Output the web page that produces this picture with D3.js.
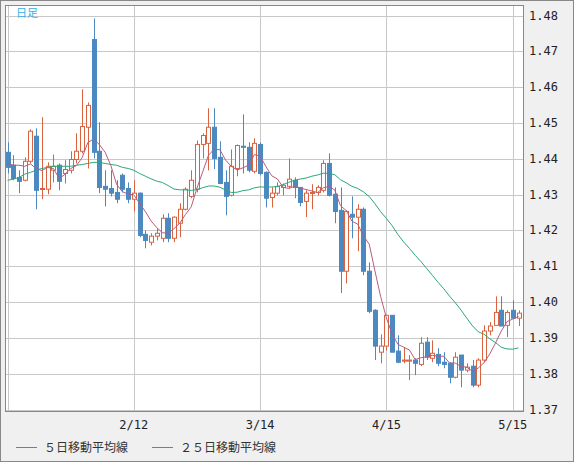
<!DOCTYPE html>
<html>
<head>
<meta charset="utf-8">
<script src="https://cdn.jsdelivr.net/npm/d3@7"></script>
<style>
body { margin:0; background:#f0f0f0; font-family:"DejaVu Sans Mono", monospace; }
</style>
</head>
<body>
<svg id="chart" width="574" height="462"></svg>
<script>
// daily candles, 90 sessions
var opens  = [1.4418,1.4382,1.4348,1.4340,1.4393,1.4463,1.4315,1.4315,1.4368,1.4382,1.4359,1.4368,1.4398,1.4421,1.4488,1.4733,1.4421,1.4323,1.4317,1.4306,
              1.4354,1.4317,1.4287,1.4304,1.4189,1.4167,1.4184,1.4178,1.4234,1.4178,1.4220,1.4259,1.4295,1.4315,1.4440,1.4443,1.4488,1.4404,1.4334,1.4298,
              1.4373,1.4435,1.4432,1.4365,1.4440,1.4362,1.4292,1.4304,1.4320,1.4323,1.4340,1.4320,1.4281,1.4304,1.4306,1.4312,1.4387,1.4301,1.4256,1.4086,
              1.4245,1.4237,1.4259,1.4086,1.3977,1.3860,1.3877,1.3963,1.3863,1.3835,1.3835,1.3838,1.3826,1.3888,1.3843,1.3854,1.3832,1.3829,1.3790,1.3852,
              1.3810,1.3821,1.3768,1.3838,1.3919,1.3935,1.3977,1.3935,1.3977,1.3955]
var closes = [1.4376,1.4345,1.4337,1.4393,1.4477,1.4312,1.4317,1.4379,1.4379,1.4337,1.4370,1.4398,1.4421,1.4490,1.4549,1.4418,1.4320,1.4315,1.4304,1.4287,
              1.4315,1.4287,1.4304,1.4186,1.4172,1.4184,1.4192,1.4234,1.4178,1.4237,1.4259,1.4315,1.4340,1.4440,1.4465,1.4488,1.4401,1.4331,1.4295,1.4379,
              1.4437,1.4432,1.4368,1.4443,1.4359,1.4290,1.4304,1.4323,1.4326,1.4343,1.4320,1.4278,1.4304,1.4306,1.4320,1.4387,1.4298,1.4253,1.4086,1.4253,
              1.4237,1.4259,1.4086,1.3974,1.3877,1.3877,1.3963,1.3860,1.3832,1.3838,1.3838,1.3829,1.3885,1.3846,1.3857,1.3829,1.3826,1.3790,1.3846,1.3810,
              1.3818,1.3768,1.3838,1.3919,1.3933,1.3971,1.3933,1.3971,1.3955,1.3969]
var highs  = [1.4446,1.4410,1.4368,1.4404,1.4482,1.4485,1.4516,1.4390,1.4412,1.4387,1.4396,1.4421,1.4471,1.4594,1.4557,1.4792,1.4502,1.4368,1.4368,1.4340,
              1.4359,1.4334,1.4340,1.4306,1.4200,1.4192,1.4206,1.4245,1.4248,1.4239,1.4276,1.4320,1.4368,1.4451,1.4471,1.4541,1.4541,1.4449,1.4368,1.4426,
              1.4440,1.4524,1.4446,1.4457,1.4446,1.4365,1.4320,1.4334,1.4331,1.4401,1.4348,1.4320,1.4312,1.4329,1.4326,1.4396,1.4415,1.4320,1.4320,1.4256,
              1.4295,1.4273,1.4264,1.4111,1.3980,1.3910,1.3963,1.3963,1.3907,1.3874,1.3852,1.3843,1.3902,1.3902,1.3893,1.3871,1.3860,1.3832,1.3860,1.3852,
              1.3829,1.3838,1.3843,1.3935,1.3944,1.4016,1.4016,1.3977,1.4005,1.3977]
var lows   = [1.4359,1.4340,1.4304,1.4337,1.4387,1.4259,1.4287,1.4301,1.4334,1.4312,1.4331,1.4359,1.4387,1.4415,1.4373,1.4401,1.4304,1.4267,1.4295,1.4276,
              1.4306,1.4276,1.4253,1.4181,1.4150,1.4158,1.4172,1.4167,1.4167,1.4167,1.4181,1.4256,1.4290,1.4306,1.4401,1.4368,1.4371,1.4329,1.4242,1.4295,
              1.4351,1.4359,1.4362,1.4359,1.4354,1.4264,1.4264,1.4298,1.4298,1.4317,1.4290,1.4267,1.4237,1.4259,1.4298,1.4306,1.4295,1.4220,1.4025,1.4052,
              1.4178,1.4142,1.4075,1.3969,1.3838,1.3829,1.3865,1.3860,1.3829,1.3829,1.3782,1.3796,1.3821,1.3838,1.3832,1.3821,1.3815,1.3773,1.3787,1.3762,
              1.3804,1.3762,1.3762,1.3832,1.3907,1.3935,1.3933,1.3902,1.3952,1.3933]
// averages for the first sessions (prior data not shown)
var ma5Start  = [1.4387,1.4382,1.4382,1.4379]
var ma25Start = [1.4340,1.4343,1.4348,1.4357,1.4362,1.4368,1.4373,1.4376,1.4379,1.4379,1.4379,1.4379,1.4382,1.4384,1.4387,1.4390,1.4390,1.4387,1.4384,1.4382,
                 1.4376,1.4373,1.4368,1.4359]
var yTicks = [1.37,1.38,1.39,1.40,1.41,1.42,1.43,1.44,1.45,1.46,1.47,1.48]
var dateTicks = [[22,"2/12"],[44,"3/14"],[66,"4/15"],[88,"5/15"]]

function movingAvg(n, start){
	var out = []
	for(var i=0;i<closes.length;i++){
		if(i<n-1){ out.push(start[i]); continue }
		out.push(d3.mean(closes.slice(i-n+1,i+1)))
	}
	return out
}
var ma5 = movingAvg(5, ma5Start)
var ma25 = movingAvg(25, ma25Start)

var svg = d3.select("#chart")
var L=5, R=524, T=5, B=412
svg.append("rect").attr("x",0.5).attr("y",0.5).attr("width",573).attr("height",461).attr("fill","#f0f0f0").attr("stroke","#888")
svg.append("rect").attr("x",L).attr("y",T).attr("width",R-L).attr("height",B-T).attr("fill","#fff")

var x = d3.scaleLinear().domain([0,89]).range([7.5,518.5])
var y = d3.scaleLinear().domain([1.37,1.48]).range([409.5,15.5])

// grid
svg.append("g").selectAll("line").data(yTicks).join("line")
	.attr("x1",L).attr("x2",R).attr("y1",d=>Math.round(y(d))+0.5).attr("y2",d=>Math.round(y(d))+0.5)
	.attr("stroke","#c8c8c8")
svg.append("g").selectAll("line").data([[0]].concat(dateTicks)).join("line")
	.attr("x1",d=>Math.round(x(d[0]))+0.5).attr("x2",d=>Math.round(x(d[0]))+0.5).attr("y1",T).attr("y2",B)
	.attr("stroke","#c8c8c8")

// candles
var idx = d3.range(closes.length)
var g = svg.append("g")
idx.forEach(function(i){
	var up = closes[i]>=opens[i]
	var col = up ? "#d9623f" : "#4b89c0"
	var cx = Math.round(x(i))+0.5
	g.append("line").attr("x1",cx).attr("x2",cx).attr("y1",y(highs[i])).attr("y2",y(lows[i])).attr("stroke",col)
	var top = y(Math.max(opens[i],closes[i])), bot = y(Math.min(opens[i],closes[i]))
	g.append("rect").attr("x",cx-2).attr("y",top).attr("width",4).attr("height",Math.max(1,bot-top))
		.attr("fill",up?"#fff":col).attr("stroke",col)
})

var line = d3.line().x((d,i)=>x(i)).y(d=>y(d))
svg.append("path").datum(ma25).attr("d",line).attr("fill","none").attr("stroke","#2aa876").attr("stroke-width",1)
svg.append("path").datum(ma5).attr("d",line).attr("fill","none").attr("stroke","#b85c80").attr("stroke-width",1)

// frame
svg.append("rect").attr("x",L+0.5).attr("y",T+0.5).attr("width",R-L-1).attr("height",B-T-1).attr("fill","none").attr("stroke","#888")

// axis labels
svg.append("g").selectAll("text").data(yTicks).join("text")
	.attr("x",529).attr("y",d=>y(d)+4).attr("font-size",12).attr("fill","#222").text(d=>d.toFixed(2))
svg.append("g").selectAll("text").data(dateTicks).join("text")
	.attr("x",d=>x(d[0])).attr("y",429).attr("text-anchor","middle").attr("font-size",12).attr("fill","#222").text(d=>d[1])

svg.append("text").attr("x",16).attr("y",17).attr("font-size",11).attr("fill","#35b0e6").attr("font-family","Noto Sans CJK JP").text("日足")

// legend
var leg = [["５日移動平均線","#b85c80",16],["２５日移動平均線","#2aa876",152]]
leg.forEach(function(l){
	svg.append("line").attr("x1",l[2]).attr("x2",l[2]+21).attr("y1",447.5).attr("y2",447.5).attr("stroke",l[1])
	svg.append("text").attr("x",l[2]+28).attr("y",452).attr("font-size",12).attr("fill","#333").attr("font-family","Noto Sans CJK JP").text(l[0])
})
</script>
</body>
</html>
